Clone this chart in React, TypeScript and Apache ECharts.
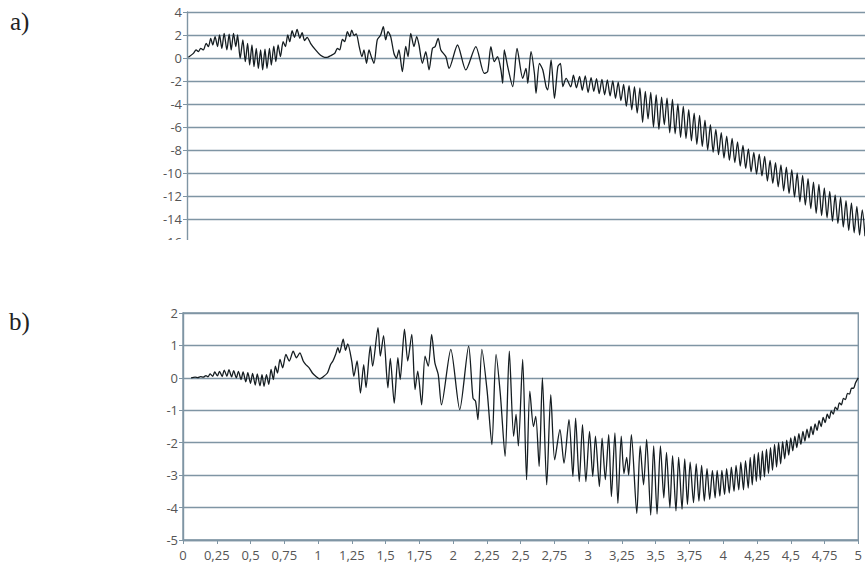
import React, { useEffect, useRef } from "react";
import * as echarts from "echarts";

type P = [number, number];

// Panel a) – as [x, y] turning points
const aSeg1: P[] = [[0.01,0.06],[0.047,0.4],[0.067,0.7],[0.084,0.55],[0.101,0.84],[0.121,0.7],[0.141,1.28],[0.158,0.99],[0.175,1.71],[0.19,1.13],[0.207,1.86],[0.225,0.99],[0.24,2.0],[0.257,0.84],[0.274,2.14],[0.294,0.7],[0.311,2.08],[0.326,0.7],[0.343,2.14],[0.36,0.99],[0.373,2.0],[0.392,-0.03],[0.412,1.57],[0.43,-0.32],[0.447,1.28],[0.462,-0.61],[0.479,1.13],[0.494,-0.75],[0.511,0.84],[0.526,-0.9],[0.543,0.7],[0.558,-1.04],[0.575,0.76],[0.59,-0.9],[0.608,0.84],[0.622,-0.61],[0.64,1.04],[0.655,-0.32],[0.672,1.13],[0.689,0.12],[0.709,1.42],[0.726,0.99],[0.743,2.0],[0.758,1.42],[0.775,2.37],[0.793,1.8],[0.812,2.49],[0.832,1.71],[0.849,2.2],[0.867,1.51],[0.886,1.8],[0.911,1.28],[0.948,0.7],[0.985,0.23],[1.015,0.06],[1.04,0.08]];
const aSeg2: P[] = [[1.058,0.2],[1.09,0.41],[1.109,0.84],[1.126,0.7],[1.146,1.62],[1.163,1.42],[1.183,2.29],[1.2,1.86],[1.215,2.43],[1.232,1.95],[1.248,2.1],[1.27,0.99],[1.29,0.12],[1.305,0.7],[1.324,-0.46],[1.342,0.7],[1.359,0.12],[1.379,-0.46],[1.403,1.57],[1.428,2.0],[1.448,2.72],[1.465,1.57],[1.482,2.29],[1.502,1.86],[1.526,0.41],[1.544,-0.03],[1.563,0.7],[1.588,-1.19],[1.613,1.0],[1.63,0.12],[1.65,2.14],[1.674,1.0],[1.694,1.86],[1.711,1.13],[1.736,-0.46],[1.761,0.55],[1.785,-1.04],[1.81,0.84],[1.83,0.99],[1.852,1.71],[1.872,0.7],[1.909,0.12],[1.933,-0.9],[1.995,1.13],[2.056,-1.04],[2.13,0.99],[2.192,-1.33],[2.217,-1.19],[2.241,0.99],[2.266,-0.32],[2.29,0.12],[2.315,-1.04],[2.328,-2.2],[2.34,0.7],[2.365,-0.75],[2.402,-2.49],[2.434,0.84],[2.476,-1.77],[2.5,-0.9],[2.513,-2.2],[2.537,0.55],[2.562,-1.33],[2.574,-3.07],[2.599,-0.46],[2.624,-1.04],[2.648,-2.49],[2.66,-2.78],[2.685,-0.17],[2.71,-3.51],[2.735,-0.75],[2.754,-0.46],[2.772,-2.49],[2.796,-1.77]];
const aSeg3: P[] = [[2.83,-2.5],[2.85,-1.5],[2.872,-2.6],[2.895,-1.6],[2.915,-2.8],[2.937,-1.55],[2.958,-3.0],[2.98,-1.7],[3.0,-2.9],[3.02,-1.8],[3.04,-3.1],[3.06,-1.85],[3.08,-3.2],[3.1,-1.9],[3.12,-3.3],[3.14,-2.0],[3.16,-3.5],[3.18,-2.1],[3.2,-3.7],[3.22,-2.3],[3.24,-4.2],[3.26,-2.4],[3.28,-4.5],[3.3,-2.5],[3.32,-4.8],[3.34,-2.6],[3.36,-5.6],[3.38,-2.9],[3.4,-5.3],[3.42,-3.0],[3.44,-6.0],[3.46,-3.2],[3.48,-6.2],[3.5,-3.4],[3.52,-5.8],[3.54,-3.5],[3.56,-6.5],[3.58,-3.6],[3.6,-6.6],[3.62,-4.0],[3.64,-6.9],[3.66,-4.2],[3.68,-7.0],[3.7,-4.5],[3.72,-7.2],[3.74,-4.8],[3.76,-7.5],[3.78,-5.0],[3.8,-7.7],[3.82,-5.4],[3.84,-8.0],[3.86,-5.8],[3.88,-8.2]];
const aSeg4: P[] = [[3.9,-6.2],[3.92,-8.4],[3.94,-6.5],[3.96,-8.7],[3.98,-6.8],[4.0,-8.9],[4.02,-7.0],[4.04,-9.1],[4.06,-7.3],[4.08,-9.4],[4.1,-7.6],[4.12,-9.6],[4.14,-7.9],[4.16,-9.9],[4.18,-8.2],[4.2,-10.1],[4.22,-8.35],[4.24,-10.25],[4.26,-8.55],[4.28,-10.7],[4.3,-8.9],[4.32,-10.9],[4.34,-9.1],[4.36,-11.2],[4.38,-9.3],[4.4,-11.55],[4.42,-9.5],[4.44,-11.8],[4.46,-9.7],[4.48,-12.1],[4.5,-10.0],[4.52,-12.5],[4.54,-10.2],[4.56,-12.8],[4.58,-10.5],[4.6,-13.1],[4.62,-10.8],[4.64,-13.5],[4.66,-11.0],[4.68,-13.7],[4.7,-11.3],[4.72,-13.9],[4.74,-11.6],[4.76,-14.2],[4.78,-11.9],[4.8,-14.4],[4.82,-12.1],[4.84,-14.7],[4.86,-12.4],[4.88,-15.0],[4.9,-12.6],[4.92,-15.2],[4.94,-12.9],[4.96,-15.4],[4.98,-13.2],[5.0,-15.5]];

// Panel b)
const bSeg1: P[] = [[0.06,0.0],[0.09,0.02],[0.11,0.01],[0.13,0.04],[0.15,0.02],[0.17,0.07],[0.185,0.03],[0.2,0.12],[0.22,0.05],[0.235,0.18],[0.255,0.06],[0.27,0.2],[0.29,0.04],[0.305,0.24],[0.325,0.05],[0.34,0.25],[0.36,0.03],[0.375,0.22],[0.395,0.0],[0.41,0.2],[0.43,-0.05],[0.445,0.18],[0.465,-0.12],[0.48,0.16],[0.5,-0.17],[0.515,0.14],[0.535,-0.22],[0.55,0.12],[0.57,-0.25],[0.585,0.1],[0.6,-0.26],[0.618,0.1],[0.635,-0.2]];
const bSeg2: P[] = [[0.652,0.26],[0.669,-0.05],[0.684,0.36],[0.7,0.15],[0.718,0.57],[0.738,0.31],[0.762,0.72],[0.787,0.52],[0.816,0.82],[0.84,0.62],[0.865,0.77],[0.89,0.52],[0.909,0.41],[0.934,0.31],[0.958,0.15],[0.983,0.05],[1.012,-0.03],[1.037,0.03],[1.069,0.15],[1.093,0.41],[1.11,0.52],[1.13,0.72],[1.147,0.93],[1.159,0.77],[1.186,1.19],[1.203,0.85],[1.22,1.05],[1.25,0.5],[1.265,0.05],[1.289,0.52],[1.314,-0.47],[1.338,0.41],[1.355,-0.3],[1.387,0.98],[1.404,0.36],[1.444,1.55],[1.461,0.67],[1.485,1.3],[1.517,-0.31],[1.535,0.6],[1.564,-0.78],[1.591,0.62],[1.608,-0.05],[1.64,1.5],[1.664,0.52],[1.694,1.34],[1.718,-0.36],[1.738,0.21],[1.767,-0.83],[1.792,0.67],[1.816,0.36],[1.841,1.34],[1.865,0.46],[1.89,0.1],[1.914,-0.83],[1.983,0.88],[2.049,-0.98],[2.115,0.98]];
const bSeg3: P[] = [[2.147,-0.62],[2.166,-0.72],[2.184,-1.29],[2.213,0.88],[2.252,-0.41],[2.287,-2.06],[2.318,0.72],[2.35,-0.52],[2.385,-2.42],[2.416,0.82],[2.448,-1.8],[2.466,-1.13],[2.483,-2.1],[2.515,0.57],[2.544,-3.14],[2.568,-0.41],[2.595,-1.5],[2.612,-1.19],[2.637,-2.73],[2.661,0.0],[2.693,-3.3],[2.723,-0.52],[2.752,-2.53],[2.791,-1.6],[2.821,-2.63],[2.858,-1.29],[2.887,-3.04],[2.907,-1.24],[2.934,-3.2],[2.958,-1.44],[2.983,-3.2],[3.01,-1.65],[3.034,-3.04],[3.054,-1.8],[3.083,-3.35],[3.103,-1.86],[3.127,-3.14]];
const bSeg4: P[] = [[3.152,-1.75],[3.172,-3.66],[3.198,-1.7],[3.22,-3.87],[3.245,-1.8],[3.265,-2.95],[3.285,-2.45],[3.3,-3.0],[3.32,-1.75],[3.36,-4.18],[3.385,-2.1],[3.41,-3.3],[3.433,-1.9],[3.463,-4.23],[3.485,-2.1],[3.51,-4.2],[3.535,-2.1],[3.56,-3.7],[3.58,-2.3],[3.605,-4.0],[3.625,-2.4],[3.65,-4.1],[3.67,-2.45],[3.695,-4.05],[3.715,-2.5],[3.735,-3.9],[3.755,-2.6],[3.78,-3.85],[3.8,-2.65],[3.82,-3.8],[3.84,-2.7],[3.86,-3.8],[3.88,-2.8],[3.9,-3.75],[3.92,-2.85],[3.94,-3.7],[3.955,-2.85],[3.975,-3.65],[3.99,-2.85],[4.01,-3.6],[4.025,-2.8],[4.045,-3.55],[4.06,-2.75],[4.08,-3.5],[4.095,-2.7],[4.115,-3.45],[4.13,-2.6],[4.15,-3.45],[4.165,-2.55],[4.185,-3.4]];
const bSeg5: P[] = [[4.2,-2.45],[4.215,-3.3],[4.23,-2.35],[4.245,-3.2],[4.26,-2.3],[4.275,-3.15],[4.29,-2.25],[4.305,-3.05],[4.32,-2.2],[4.335,-2.95],[4.35,-2.15],[4.365,-2.85],[4.38,-2.05],[4.395,-2.75],[4.41,-2.0],[4.425,-2.65],[4.44,-1.97],[4.455,-2.5],[4.47,-1.92],[4.485,-2.38],[4.5,-1.85],[4.515,-2.25],[4.53,-1.8],[4.545,-2.15],[4.56,-1.72],[4.575,-2.05],[4.59,-1.65],[4.605,-1.95],[4.62,-1.58],[4.635,-1.85],[4.65,-1.5],[4.665,-1.75],[4.68,-1.42],[4.695,-1.62],[4.71,-1.32],[4.725,-1.5],[4.74,-1.22],[4.755,-1.38],[4.77,-1.12],[4.785,-1.25],[4.8,-1.02],[4.815,-1.12],[4.83,-0.9],[4.845,-0.98],[4.86,-0.77],[4.875,-0.83],[4.89,-0.63],[4.905,-0.67],[4.92,-0.48],[4.935,-0.5],[4.95,-0.32],[4.965,-0.32],[4.98,-0.15],[5.0,0.0]];

const seriesA: P[] = [...aSeg1, ...aSeg2, ...aSeg3, ...aSeg4];
const seriesB: P[] = [...bSeg1, ...bSeg2, ...bSeg3, ...bSeg4, ...bSeg5];

const GRID = "#7f95a4";
const LABEL = "#555555";
const FONT = "Open Sans";
const LINE = "#151d21";

export default function App() {
  const ref = useRef<HTMLDivElement>(null);
  useEffect(() => {
    const chart = echarts.init(ref.current!, null, { renderer: "svg" });
    const labelStyle = { color: LABEL, fontFamily: FONT, fontSize: 13 };
    chart.setOption({
      animation: false,
      backgroundColor: "#ffffff",
      grid: [
        { left: 187, top: 12, right: 0, height: 230 },
        { left: 183, top: 313, right: 2, height: 227, show: true, borderColor: GRID, borderWidth: 1.4 },
      ],
      xAxis: [
        {
          gridIndex: 0, type: "value", min: 0, max: 5,
          axisLine: { show: false }, axisTick: { show: false }, axisLabel: { show: false }, splitLine: { show: false },
        },
        {
          gridIndex: 1, type: "value", min: 0, max: 5, interval: 0.25,
          axisLine: { show: true, onZero: false, lineStyle: { color: GRID, width: 1.4 } },
          axisTick: { show: true, length: 4, lineStyle: { color: GRID } },
          axisLabel: { ...labelStyle, margin: 8, formatter: (v: number) => String(v).replace(".", ",") },
          splitLine: { show: false },
        },
      ],
      yAxis: [
        {
          gridIndex: 0, type: "value", min: -16, max: 4, interval: 2,
          axisLine: { show: true, lineStyle: { color: GRID, width: 1.4 } },
          axisTick: { show: true, length: 4, lineStyle: { color: GRID } },
          axisLabel: { ...labelStyle, margin: 5 },
          splitLine: { show: true, lineStyle: { color: GRID, width: 1.4 } },
        },
        {
          gridIndex: 1, type: "value", min: -5, max: 2, interval: 1,
          axisLine: { show: true, lineStyle: { color: GRID, width: 1.4 } },
          axisTick: { show: true, length: 4, lineStyle: { color: GRID } },
          axisLabel: { ...labelStyle, margin: 5 },
          splitLine: { show: true, lineStyle: { color: GRID, width: 1.4 } },
        },
      ],
      series: [
        {
          type: "line", xAxisIndex: 0, yAxisIndex: 0, data: seriesA, showSymbol: false, symbol: "none",
          smooth: 0.25, lineStyle: { color: LINE, width: 1.3 }, z: 3,
        },
        {
          type: "line", xAxisIndex: 1, yAxisIndex: 1, data: seriesB, showSymbol: false, symbol: "none",
          smooth: 0.25, lineStyle: { color: LINE, width: 1.3 }, z: 3,
        },
      ],
      graphic: [
        { type: "rect", left: 0, top: 240, shape: { width: 865, height: 62 }, style: { fill: "#ffffff" }, z: 100 },
        { type: "text", left: 10, top: 9, style: { text: "a)", fontFamily: "Liberation Serif", fontSize: 25, fill: "#222" }, z: 101 },
        { type: "text", left: 9, top: 309, style: { text: "b)", fontFamily: "Liberation Serif", fontSize: 25, fill: "#222" }, z: 101 },
      ],
    });
    return () => chart.dispose();
  }, []);
  return <div ref={ref} style={{ position: "absolute", left: 0, top: 0, width: 865, height: 567 }} />;
}
